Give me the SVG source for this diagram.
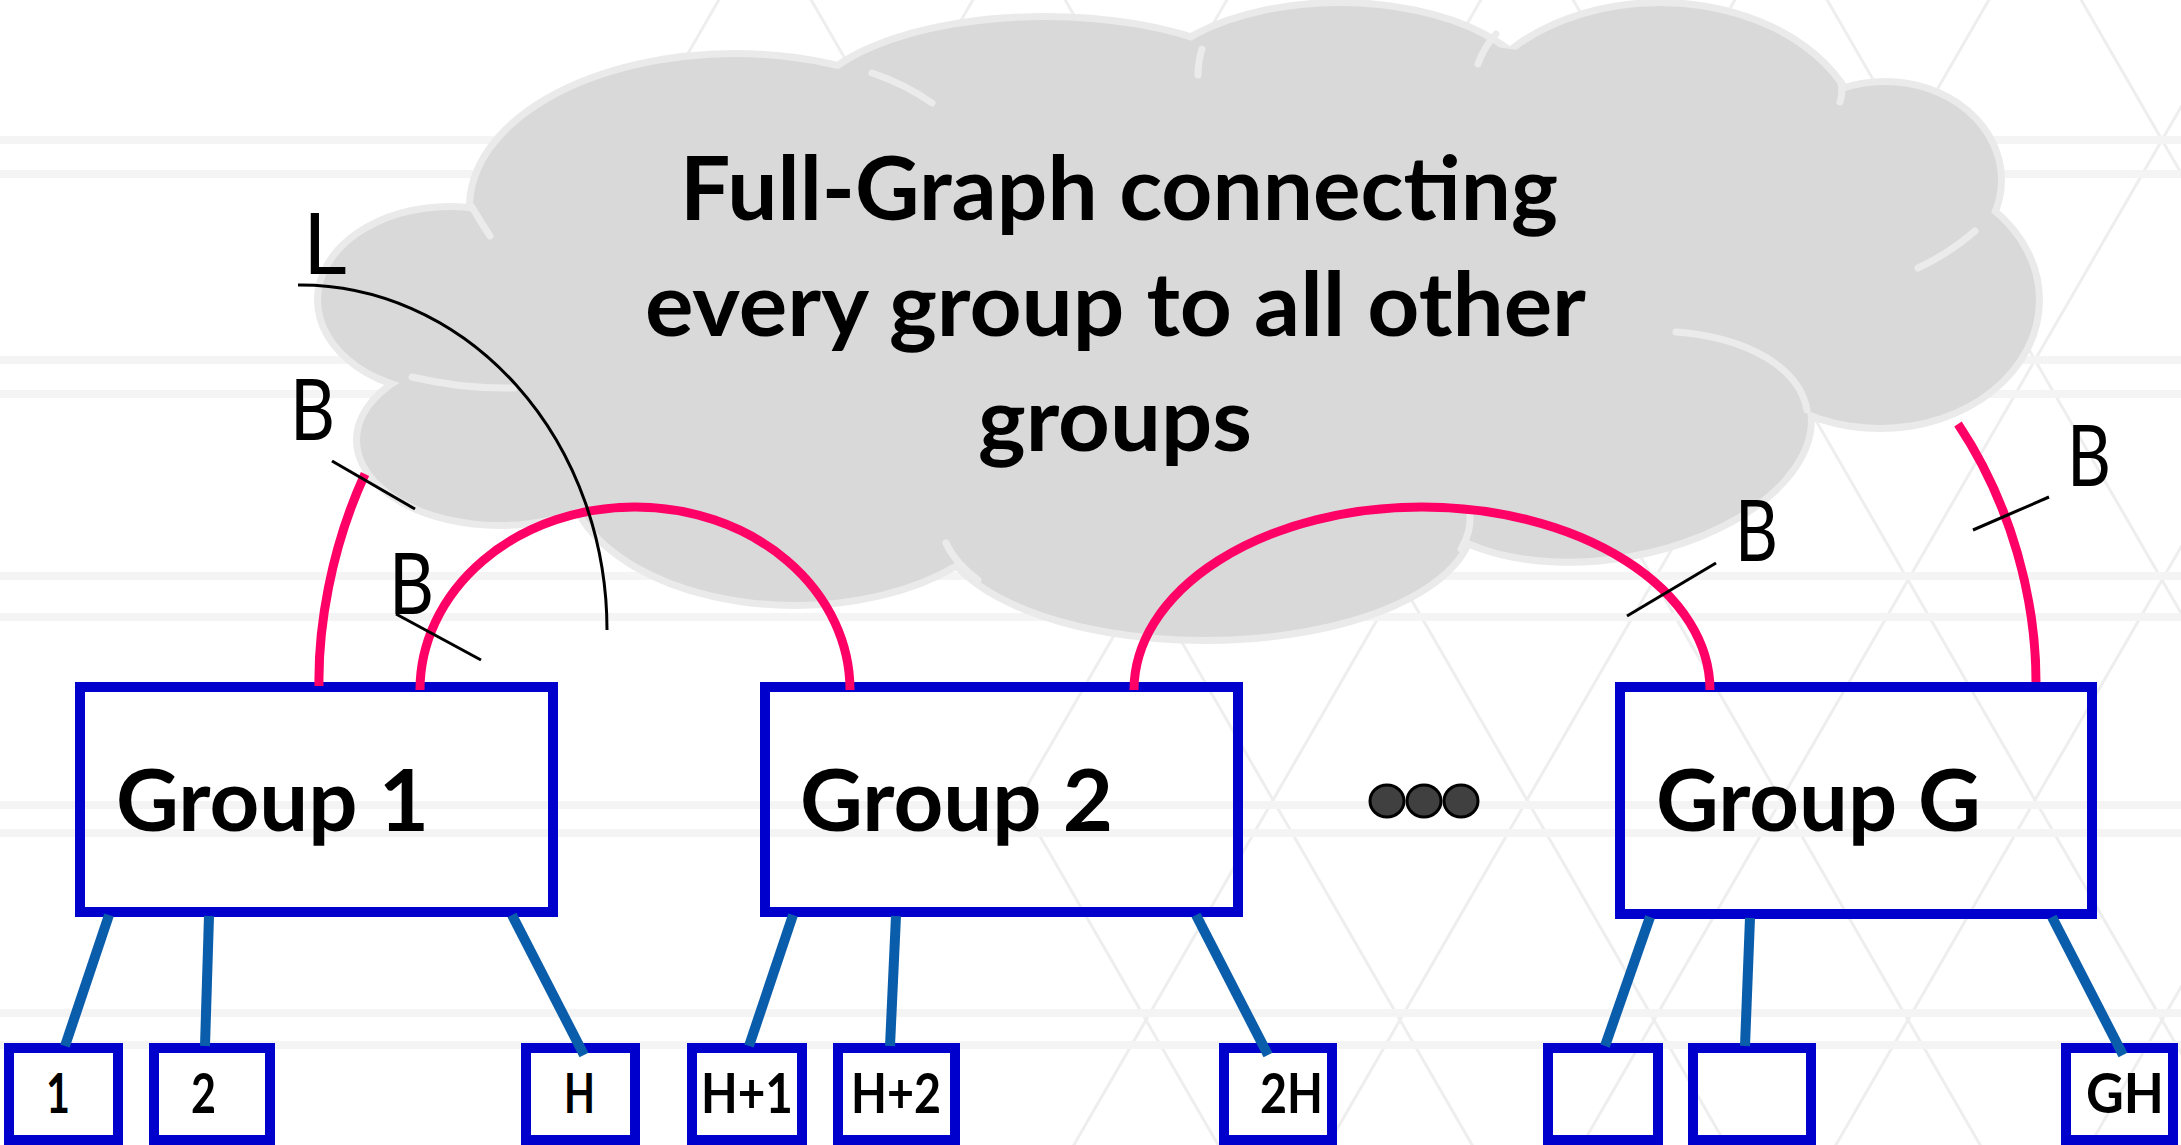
<svg xmlns="http://www.w3.org/2000/svg" xmlns:xlink="http://www.w3.org/1999/xlink" width="2181" height="1145" viewBox="0 0 2181 1145">
  <defs>
    <style>
      .band { stroke: #F4F4F4; stroke-width: 8; fill: none; }
      .box { fill: none; stroke: #0000CC; stroke-width: 10; }
      .global { fill: none; stroke: #FF0066; stroke-width: 9; }
      .local { fill: none; stroke: #0A5DAA; stroke-width: 10; }
      .thin { fill: none; stroke: #000000; stroke-width: 3; }
      .fold { fill: none; stroke: #EBEBEB; stroke-width: 7; stroke-linecap: round; }
      .dot { fill: #404040; stroke: #000000; stroke-width: 3; }
      .title { font-family: Lato, "Liberation Sans", sans-serif; font-weight: 700; font-size: 88px; fill: #000; }
      .glabel { font-family: Lato, "Liberation Sans", sans-serif; font-weight: 700; font-size: 86px; fill: #000; }
      .hlabel { font-family: Lato, "Liberation Sans", sans-serif; font-weight: 700; font-size: 55px; fill: #000; }
      .mark { font-family: Lato, "Liberation Sans", sans-serif; font-weight: 400; font-size: 85px; fill: #000; }
    </style>
    <pattern id="lattice" patternUnits="userSpaceOnUse" x="1146" y="140" width="254" height="440">
      <path d="M0 0 L254 440 M254 0 L0 440" stroke="#EEEEEE" stroke-width="3" fill="none"/>
    </pattern>
    <!-- cloud lobes; paint comes from the referencing <use> -->
    <g id="lobes">
      <ellipse cx="450" cy="300" rx="129" ry="90"/>
      <ellipse cx="500" cy="440" rx="140" ry="82"/>
      <ellipse cx="735" cy="207" rx="262" ry="150"/>
      <ellipse cx="1045" cy="120" rx="240" ry="100"/>
      <ellipse cx="1340" cy="110" rx="200" ry="104"/>
      <ellipse cx="1660" cy="150" rx="200" ry="144"/>
      <ellipse cx="1885" cy="180" rx="113" ry="95"/>
      <ellipse cx="1880" cy="300" rx="156" ry="125"/>
      <ellipse cx="1610" cy="445" rx="200" ry="110" transform="rotate(-10 1610 445)"/>
      <ellipse cx="1205" cy="520" rx="265" ry="117"/>
      <ellipse cx="795" cy="470" rx="225" ry="132"/>
    </g>
  </defs>

  <!-- backdrop -->
  <g id="backdrop">
    <rect x="0" y="0" width="2181" height="1145" fill="#FFFFFF"/>
    <path d="M1020 0 H2181 V1145 H1020 Z M600 0 H1020 V140 H600 Z" fill="url(#lattice)"/>
    <path class="band" d="M0 140 H2181 M0 174 H2181 M0 360 H2181 M0 394 H2181 M0 576 H2181 M0 617 H2181 M0 805 H2181 M0 833 H2181 M0 1013 H2181 M0 1045 H2181"/>
  </g>

  <!-- cloud: the full graph between groups -->
  <g id="cloud">
    <use xlink:href="#lobes" href="#lobes" fill="none" stroke="#EAEAEA" stroke-width="14"/>
    <use xlink:href="#lobes" href="#lobes" fill="#D9D9D9" stroke="none"/>
    <polygon fill="#D9D9D9" points="474,214 875,80 1200,56 1488,46 1838,92 1968,236 1803,410 1458,541 962,552 578,504 406,382"/>
    <path class="fold" d="M472 207 Q480 221 490 236"/>
    <path class="fold" d="M412 377 Q462 389 514 388"/>
    <path class="fold" d="M872 73 Q905 84 932 103"/>
    <path class="fold" d="M1202 49 Q1198 61 1198 75"/>
    <path class="fold" d="M1496 34 Q1484 47 1478 64"/>
    <path class="fold" d="M1841 83 Q1843 93 1840 102"/>
    <path class="fold" d="M1975 231 Q1950 253 1918 268"/>
    <path class="fold" d="M1676 332 A200 110 -10 0 1 1807 410"/>
    <path class="fold" d="M1461 549 A265 117 0 0 0 1470 515"/>
    <path class="fold" d="M978 580 A265 117 0 0 1 946 543"/>
    <text class="title" x="680" y="220" textLength="878" lengthAdjust="spacingAndGlyphs">Full-Graph connecting</text>
    <text class="title" x="645" y="336" textLength="941" lengthAdjust="spacingAndGlyphs">every group to all other</text>
    <text class="title" x="978" y="451" textLength="274" lengthAdjust="spacingAndGlyphs">groups</text>
  </g>

  <!-- groups -->
  <g id="group-1">
    <rect class="box" x="80" y="687" width="473" height="225"/>
    <text class="glabel" x="116" y="831" textLength="313" lengthAdjust="spacingAndGlyphs">Group 1</text>
  </g>
  <g id="group-2">
    <rect class="box" x="765" y="687" width="473" height="225"/>
    <text class="glabel" x="800" y="831" textLength="313" lengthAdjust="spacingAndGlyphs">Group 2</text>
  </g>
  <g id="group-g">
    <rect class="box" x="1620" y="687" width="472" height="227"/>
    <text class="glabel" x="1656" y="831" textLength="325" lengthAdjust="spacingAndGlyphs">Group G</text>
  </g>
  <g id="ellipsis">
    <ellipse class="dot" cx="1387" cy="801" rx="17" ry="16"/>
    <ellipse class="dot" cx="1424" cy="801" rx="17" ry="16"/>
    <ellipse class="dot" cx="1461" cy="801" rx="17" ry="16"/>
  </g>

  <!-- hosts -->
  <g id="host-1"><rect class="box" x="9" y="1048" width="109" height="92"/><text class="hlabel" x="46" y="1113" textLength="24" lengthAdjust="spacingAndGlyphs">1</text></g>
  <g id="host-2"><rect class="box" x="154" y="1048" width="116" height="92"/><text class="hlabel" x="191" y="1113" textLength="25" lengthAdjust="spacingAndGlyphs">2</text></g>
  <g id="host-h"><rect class="box" x="526" y="1048" width="109" height="92"/><text class="hlabel" x="564" y="1113" textLength="31" lengthAdjust="spacingAndGlyphs">H</text></g>
  <g id="host-h1"><rect class="box" x="692" y="1048" width="110" height="92"/><text class="hlabel" x="701" y="1113" textLength="92" lengthAdjust="spacingAndGlyphs">H+1</text></g>
  <g id="host-h2"><rect class="box" x="838" y="1048" width="117" height="92"/><text class="hlabel" x="851" y="1113" textLength="90" lengthAdjust="spacingAndGlyphs">H+2</text></g>
  <g id="host-2h"><rect class="box" x="1224" y="1048" width="108" height="92"/><text class="hlabel" x="1260" y="1113" textLength="63" lengthAdjust="spacingAndGlyphs">2H</text></g>
  <g id="host-g1"><rect class="box" x="1548" y="1048" width="110" height="92"/></g>
  <g id="host-g2"><rect class="box" x="1693" y="1048" width="118" height="92"/></g>
  <g id="host-gh"><rect class="box" x="2066" y="1048" width="107" height="92"/><text class="hlabel" x="2086" y="1113" textLength="78" lengthAdjust="spacingAndGlyphs">GH</text></g>

  <!-- links -->
  <g id="connectors">
    <path class="global" d="M319 686 C318 630 330 550 365 474"/>
    <path class="global" d="M420 690 A215 183 0 0 1 850 690"/>
    <path class="global" d="M1134 690 A288 183 0 0 1 1710 690"/>
    <path class="global" d="M2036 682 C2036 600 2012 505 1958 424"/>
    <path class="local" d="M109 915 L65 1046"/>
    <path class="local" d="M209 916 L205 1046"/>
    <path class="local" d="M512 915 L584 1055"/>
    <path class="local" d="M793 915 L749 1046"/>
    <path class="local" d="M896 916 L890 1046"/>
    <path class="local" d="M1196 915 L1268 1055"/>
    <path class="local" d="M1650 917 L1605 1046"/>
    <path class="local" d="M1750 918 L1745 1046"/>
    <path class="local" d="M2052 917 L2123 1055"/>
    <path class="thin" d="M298 285 A307 345 0 0 1 607 630"/>
    <path class="thin" d="M332 461 L415 509"/>
    <path class="thin" d="M396 614 L481 660"/>
    <path class="thin" d="M1627 616 L1716 563"/>
    <path class="thin" d="M1973 530 L2049 497"/>
  </g>

  <!-- link annotations -->
  <g id="annotations">
    <text class="mark" x="303" y="274">L</text>
    <text class="mark" x="290" y="440" textLength="45" lengthAdjust="spacingAndGlyphs">B</text>
    <text class="mark" x="389" y="614" textLength="45" lengthAdjust="spacingAndGlyphs">B</text>
    <text class="mark" x="1735" y="561" textLength="43" lengthAdjust="spacingAndGlyphs">B</text>
    <text class="mark" x="2067" y="486" textLength="44" lengthAdjust="spacingAndGlyphs">B</text>
  </g>
</svg>
